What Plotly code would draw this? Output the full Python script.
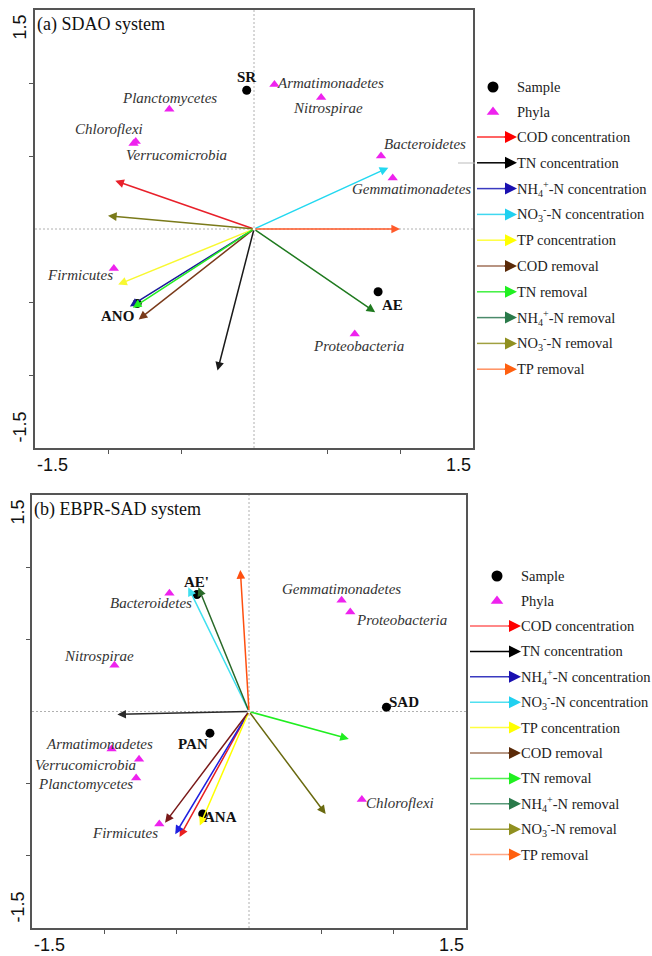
import plotly.graph_objects as go

W, H = 652, 956

# ---------------------------------------------------------------- data
ENV_LABELS = [
    "COD concentration",
    "TN concentration",
    "NH<sub>4</sub><sup>+</sup>-N concentration",
    "NO<sub>3</sub><sup>-</sup>-N concentration",
    "TP concentration",
    "COD removal",
    "TN removal",
    "NH<sub>4</sub><sup>+</sup>-N removal",
    "NO<sub>3</sub><sup>-</sup>-N removal",
    "TP removal",
]
LEGEND_POINTS = ["Sample", "Phyla"]
AXIS_LIMITS = [-1.5, 1.5]
AXIS_TICK_LABELS = ["-1.5", "1.5"]
MINOR_TICKS = [-1.0, -0.5, 0.5, 1.0]

# (a) SDAO system
SDAO_ENV_X = [-0.95, -0.25, -0.85, 0.92, -0.93, -0.79, -0.83, 0.83, -1.00, 1.00]
SDAO_ENV_Y = [0.33, -0.97, -0.53, 0.42, -0.38, -0.62, -0.54, -0.57, 0.09, 0.00]
SDAO_SAMPLES = ["SR", "AE", "ANO"]
SDAO_SAMPLE_X = [-0.05, 0.85, -0.80]
SDAO_SAMPLE_Y = [0.95, -0.43, -0.51]
SDAO_PHYLA = ["Armatimonadetes", "Planctomycetes", "Nitrospirae", "Chloroflexi",
              "Verrucomicrobia", "Bacteroidetes", "Gemmatimonadetes", "Firmicutes",
              "Proteobacteria"]
SDAO_PHYLA_X = [0.14, -0.58, 0.46, -0.81, -0.825, 0.87, 0.95, -0.96, 0.69]
SDAO_PHYLA_Y = [0.99, 0.82, 0.90, 0.60, 0.585, 0.50, 0.35, -0.27, -0.72]

# (b) EBPR-SAD system
EBPR_ENV_X = [-0.48, -0.91, -0.51, -0.42, -0.34, -0.58, 0.69, -0.35, 0.53, -0.06]
EBPR_ENV_Y = [-0.87, -0.02, -0.85, 0.86, -0.79, -0.77, -0.19, 0.86, -0.71, 0.98]
EBPR_SAMPLES = ["AE'", "SAD", "PAN", "ANA"]
EBPR_SAMPLE_X = [-0.36, 0.95, -0.27, -0.32]
EBPR_SAMPLE_Y = [0.81, 0.03, -0.15, -0.71]
EBPR_PHYLA = ["Bacteroidetes", "Gemmatimonadetes", "Proteobacteria", "Nitrospirae",
              "Armatimonadetes", "Verrucomicrobia", "Planctomycetes", "Firmicutes",
              "Chloroflexi"]
EBPR_PHYLA_X = [-0.55, 0.64, 0.70, -0.93, -0.95, -0.76, -0.78, -0.62, 0.78]
EBPR_PHYLA_Y = [0.82, 0.77, 0.69, 0.32, -0.26, -0.33, -0.46, -0.78, -0.61]

# ---------------------------------------------------------------- styles
SERIF = "Liberation Serif, Times New Roman, serif"
SANS = "Liberation Sans, Arial, sans-serif"
MAGENTA = "#ee22ee"

ARROW_COLORS_A = ["#e8202a", "#1a1a1a", "#1a1a9a", "#22d8f0", "#f8f830",
                  "#7a3a1a", "#22ee22", "#1f7a1f", "#7a7a1a", "#ff5a2a"]
ARROW_COLORS_B = ["#e82020", "#2a2a2a", "#2020e0", "#40e0f0", "#ffff00",
                  "#7a1a1a", "#20ee20", "#2a6a2a", "#6a6a10", "#ff5010"]
LEGEND_HEADS = ["#ff0000", "#000000", "#1a10b0", "#20d0f0", "#ffff00",
                "#5a2a08", "#20f020", "#2a7a4a", "#909020", "#ff6010"]
LEGEND_LINES_A = ["#ff3030", "#000000", "#3a3ac0", "#40d8f0", "#ffff40",
                  "#a07058", "#40f040", "#4a8a6a", "#a0a040", "#ff9060"]
LEGEND_LINES_B = ["#ff6060", "#000000", "#3a3ac0", "#50e0f0", "#ffff40",
                  "#a07860", "#50f050", "#5a9a7a", "#a0a040", "#ffa888"]

# label offsets (pixels, text centre relative to its marker)
SDAO_SAMPLE_OFF = [(0, -13), (14, 13), (-20, 13)]
SDAO_PHYLA_OFF = [(56, -1), (0, -11), (7, 10), (-27, -12), (43, 11),
                  (44, -12), (19, 11), (-34, 7), (4, 12)]
EBPR_SAMPLE_OFF = [(0, -13), (18, -5), (-17, 11), (18, 3)]
EBPR_PHYLA_OFF = [(-18, 10), (0, -11), (51, 8), (-15, -9), (-12, -5),
                  (-54, 6), (-51, 6), (-34, 9), (38, 3)]

fig = go.Figure()
annotations = []
shapes = []


def axis_style(domain, anchor):
    return dict(domain=domain, anchor=anchor, range=AXIS_LIMITS,
                tickvals=MINOR_TICKS, ticks="outside", ticklen=4, tickwidth=1,
                tickcolor="#555", showticklabels=False, showgrid=False,
                zeroline=False, showline=True, mirror=True, linecolor="#555",
                linewidth=1.5, fixedrange=True)


def add_panel(xa, ya, title, env_x, env_y, colors, samples, sx, sy, s_off,
              phyla, px_, py_, p_off, y_lab_shift):
    xr, yr = xa, ya
    # dotted zero lines
    zl = dict(color="#b0b0b0", width=1, dash="2px,2px")
    shapes.append(dict(type="line", xref=xr, yref=yr, x0=AXIS_LIMITS[0], x1=AXIS_LIMITS[1],
                       y0=0, y1=0, line=zl, layer="below"))
    shapes.append(dict(type="line", xref=xr, yref=yr, x0=0, x1=0,
                       y0=AXIS_LIMITS[0], y1=AXIS_LIMITS[1], line=zl, layer="below"))
    # environmental vectors
    for ex, ey, c in zip(env_x, env_y, colors):
        annotations.append(dict(x=ex, y=ey, ax=0, ay=0, xref=xr, yref=yr, axref=xr, ayref=yr,
                                text="", showarrow=True, arrowhead=2, arrowsize=1.15,
                                arrowwidth=1.5, arrowcolor=c, standoff=0))
    # phyla and samples
    fig.add_trace(go.Scatter(x=px_, y=py_, mode="markers", xaxis=xr, yaxis=yr,
                             marker=dict(symbol="triangle-up", size=9, color=MAGENTA),
                             showlegend=False, hoverinfo="skip"))
    fig.add_trace(go.Scatter(x=sx, y=sy, mode="markers", xaxis=xr, yaxis=yr,
                             marker=dict(symbol="circle", size=9, color="black"),
                             showlegend=False, hoverinfo="skip"))
    for name, x, y, (dx, dy) in zip(phyla, px_, py_, p_off):
        annotations.append(dict(x=x, y=y, xref=xr, yref=yr, text=f"<i>{name}</i>",
                                showarrow=False, xshift=dx, yshift=-dy,
                                font=dict(family=SERIF, size=15, color="#333333")))
    for name, x, y, (dx, dy) in zip(samples, sx, sy, s_off):
        annotations.append(dict(x=x, y=y, xref=xr, yref=yr, text=f"<b>{name}</b>",
                                showarrow=False, xshift=dx, yshift=-dy,
                                font=dict(family=SERIF, size=15, color="#111111")))
    # panel title
    annotations.append(dict(x=0, y=1, xref=f"{xr} domain", yref=f"{yr} domain", text=title,
                            showarrow=False, xanchor="left", yanchor="top", xshift=0, yshift=-2,
                            font=dict(family=SERIF, size=18, color="#111111")))
    # axis end labels
    for val, lab, anc in zip(AXIS_LIMITS, AXIS_TICK_LABELS, ["left", "right"]):
        annotations.append(dict(x=val, y=0, xref=xr, yref=f"{yr} domain", text=lab,
                                showarrow=False, xanchor=anc, yanchor="middle", yshift=-17,
                                font=dict(family=SANS, size=18, color="#111111")))
    for val, lab, anc, sh in zip(AXIS_LIMITS, AXIS_TICK_LABELS, ["bottom", "top"], [3, -3]):
        annotations.append(dict(x=0, y=val, xref=f"{xr} domain", yref=yr, text=lab,
                                showarrow=False, textangle=-90, xanchor="center", yanchor=anc,
                                xshift=y_lab_shift, yshift=sh,
                                font=dict(family=SANS, size=18, color="#111111")))


def add_legend(y_sample, y_first, step, x_marker, x_text, x_tail, x_tip, line_colors):
    # pixel overlay axis x3 / y3
    y_phyla = y_sample + (y_first - y_sample) / 2
    fig.add_trace(go.Scatter(x=[x_marker], y=[y_sample], mode="markers", xaxis="x3", yaxis="y3",
                             marker=dict(symbol="circle", size=11, color="black"),
                             showlegend=False, hoverinfo="skip"))
    fig.add_trace(go.Scatter(x=[x_marker], y=[y_phyla], mode="markers",
                             xaxis="x3", yaxis="y3",
                             marker=dict(symbol="triangle-up", size=11, color=MAGENTA),
                             showlegend=False, hoverinfo="skip"))
    for lab, y in zip(LEGEND_POINTS, [y_sample, y_phyla]):
        annotations.append(dict(x=x_text, y=y, xref="x3", yref="y3", text=lab, showarrow=False,
                                xanchor="left", yanchor="middle",
                                font=dict(family=SERIF, size=14.5, color="#222222")))
    for i, (lab, head, line) in enumerate(zip(ENV_LABELS, LEGEND_HEADS, line_colors)):
        y = y_first + i * step
        shapes.append(dict(type="line", xref="x3", yref="y3", x0=x_tail, x1=x_tip - 11,
                           y0=y, y1=y, line=dict(color=line, width=1.5)))
        annotations.append(dict(x=x_tip, y=y, ax=x_tip - 14, ay=y, xref="x3", yref="y3",
                                axref="x3", ayref="y3", text="", showarrow=True, arrowhead=2,
                                arrowsize=1.6, arrowwidth=1.5, arrowcolor=head, standoff=0))
        annotations.append(dict(x=x_text, y=y, xref="x3", yref="y3", text=lab, showarrow=False,
                                xanchor="left", yanchor="middle",
                                font=dict(family=SERIF, size=14.5, color="#222222")))


add_panel("x", "y", "(a) SDAO system", SDAO_ENV_X, SDAO_ENV_Y, ARROW_COLORS_A,
          SDAO_SAMPLES, SDAO_SAMPLE_X, SDAO_SAMPLE_Y, SDAO_SAMPLE_OFF,
          SDAO_PHYLA, SDAO_PHYLA_X, SDAO_PHYLA_Y, SDAO_PHYLA_OFF, -16)
add_panel("x2", "y2", "(b) EBPR-SAD system", EBPR_ENV_X, EBPR_ENV_Y, ARROW_COLORS_B,
          EBPR_SAMPLES, EBPR_SAMPLE_X, EBPR_SAMPLE_Y, EBPR_SAMPLE_OFF,
          EBPR_PHYLA, EBPR_PHYLA_X, EBPR_PHYLA_Y, EBPR_PHYLA_OFF, -15)

add_legend(87, 137, 25.8, 493, 515, 477, 517, LEGEND_LINES_A)
add_legend(576, 626, 25.4, 497, 519, 470, 521, LEGEND_LINES_B)

# faint guide line next to the upper legend
shapes.append(dict(type="line", xref="x3", yref="y3", x0=458, x1=475, y0=163, y1=163,
                   line=dict(color="#bbbbbb", width=1)))

fig.update_layout(
    width=W, height=H, margin=dict(l=0, r=0, t=0, b=0),
    paper_bgcolor="white", plot_bgcolor="rgba(0,0,0,0)",
    xaxis=axis_style([35 / W, 473 / W], "y"),
    yaxis=axis_style([1 - 448 / H, 1 - 10 / H], "x"),
    xaxis2=axis_style([32 / W, 466 / W], "y2"),
    yaxis2=axis_style([1 - 928 / H, 1 - 495 / H], "x2"),
    xaxis3=dict(domain=[0, 1], anchor="y3", range=[0, W], visible=False, fixedrange=True),
    yaxis3=dict(domain=[0, 1], anchor="x3", range=[H, 0], visible=False, fixedrange=True),
    annotations=annotations, shapes=shapes, showlegend=False,
)

fig.write_html("out.html")
